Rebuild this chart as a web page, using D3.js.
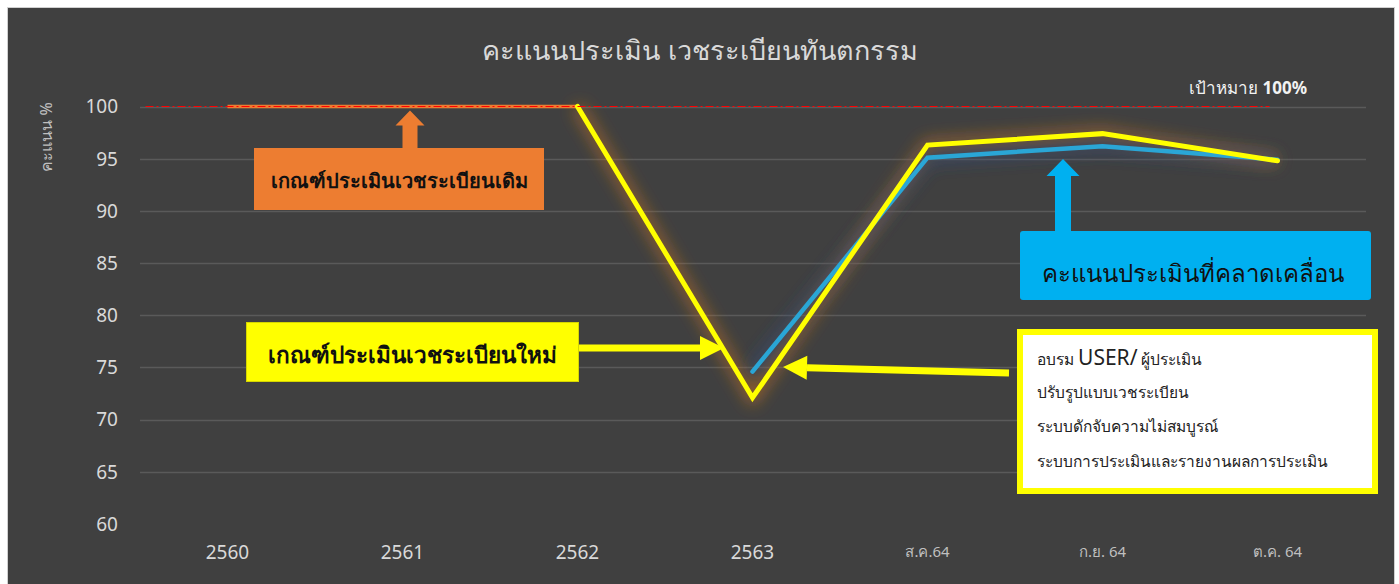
<!DOCTYPE html>
<html>
<head>
<meta charset="utf-8">
<script src="https://cdn.jsdelivr.net/npm/d3@7"></script>
<style>
  html, body { margin: 0; padding: 0; background: #ffffff; }
  svg { display: block; font-family: "Noto Sans", "Open Sans", sans-serif; }
</style>
</head>
<body>
<div id="chart"></div>
<script>
// categories on the x axis
const categories = ["2560", "2561", "2562", "2563", "ส.ค.64", "ก.ย. 64", "ต.ค. 64"];
// old assessment criteria (orange)
const oldCriteria = [100, 100, 100, null, null, null, null];
// new assessment criteria (yellow)
const newCriteria = [null, null, 100, 72.1, 96.3, 97.4, 94.8];
// deviated scores (blue)
const deviated = [null, null, null, 74.6, 95.1, 96.2, 94.9];
const yTicks = [60, 65, 70, 75, 80, 85, 90, 95, 100];
const target = 100;
const noteLines = ["ปรับรูปแบบเวชระเบียน", "ระบบดักจับความไม่สมบูรณ์", "ระบบการประเมินและรายงานผลการประเมิน"];

const w = 1399, h = 584;
const svg = d3.select("#chart").append("svg").attr("width", w).attr("height", h);

// glow filters
const defs = svg.append("defs");
function glow(id, color, sd, op) {
  const f = defs.append("filter").attr("id", id)
    .attr("x", "-20%").attr("y", "-30%").attr("width", "140%").attr("height", "160%");
  f.append("feGaussianBlur").attr("in", "SourceAlpha").attr("stdDeviation", sd).attr("result", "b");
  f.append("feFlood").attr("flood-color", color).attr("flood-opacity", op);
  f.append("feComposite").attr("in2", "b").attr("operator", "in");
}
glow("glowOrange", "#c8741f", 8, 0.7);
glow("glowBlue", "#2c4a80", 8, 0.6);

// chart background
svg.append("rect").attr("x", 0).attr("y", 0).attr("width", w).attr("height", h).attr("fill", "#ffffff");
svg.append("rect").attr("x", 7.5).attr("y", 7.5).attr("width", 1387).attr("height", 590)
  .attr("fill", "#404040").attr("stroke", "#d0d0d0");

const x = d3.scalePoint().domain(categories).range([140, 1365]).padding(0.5);
const y = d3.scaleLinear().domain([60, 100]).range([524, 106.5]);

// gridlines
svg.append("g").selectAll("line").data(yTicks.filter(d => d > 60)).enter().append("line")
  .attr("x1", 140).attr("x2", 1366)
  .attr("y1", d => Math.round(y(d)) + 0.5).attr("y2", d => Math.round(y(d)) + 0.5)
  .attr("stroke", "#5a5a5a").attr("stroke-width", 1.5);

// y tick labels
svg.append("g").selectAll("text").data(yTicks).enter().append("text")
  .attr("x", 118).attr("y", d => y(d)).attr("dy", "0.36em")
  .attr("text-anchor", "end").attr("fill", "#d9d9d9").attr("font-size", 19)
  .text(d => d);

// x tick labels
svg.append("g").selectAll("text").data(categories).enter().append("text")
  .attr("x", d => x(d)).attr("y", 552).attr("dy", "0.36em")
  .attr("text-anchor", "middle")
  .attr("fill", (d, i) => i < 4 ? "#d9d9d9" : "#bfbfbf")
  .attr("font-size", (d, i) => i < 4 ? 19 : 15)
  .text(d => d);

// y axis title
svg.append("text").attr("transform", `translate(52,137) rotate(-90)`)
  .attr("text-anchor", "middle").attr("fill", "#bfbfbf").attr("font-size", 16)
  .text("คะแนน %");

// title
svg.append("text").attr("x", 700).attr("y", 50).attr("dy", "0.36em")
  .attr("text-anchor", "middle").attr("fill", "#d9d9d9").attr("font-size", 27)
  .text("คะแนนประเมิน เวชระเบียนทันตกรรม");

const line = d3.line()
  .defined(d => d.v != null)
  .x(d => x(d.c)).y(d => y(d.v));
const toPts = arr => arr.map((v, i) => ({ c: categories[i], v: v }));

// glows
svg.append("path").attr("d", line(toPts(oldCriteria))).attr("fill", "none")
  .attr("stroke", "#000").attr("stroke-width", 10).attr("filter", "url(#glowOrange)");
svg.append("path").attr("d", line(toPts(newCriteria))).attr("fill", "none")
  .attr("stroke", "#000").attr("stroke-width", 10).attr("filter", "url(#glowOrange)");
svg.append("path").attr("d", line(toPts(deviated))).attr("fill", "none")
  .attr("stroke", "#000").attr("stroke-width", 12).attr("filter", "url(#glowBlue)");

// series lines
svg.append("path").attr("d", line(toPts(oldCriteria))).attr("fill", "none")
  .attr("stroke", "#ed7d31").attr("stroke-width", 3.5);
svg.append("path").attr("d", line(toPts(deviated))).attr("fill", "none")
  .attr("stroke", "#2aa6d6").attr("stroke-width", 4.5).attr("stroke-linecap", "round");
svg.append("path").attr("d", line(toPts(newCriteria))).attr("fill", "none")
  .attr("stroke", "#ffff00").attr("stroke-width", 5).attr("stroke-linecap", "round");

// target line (dash-dot)
svg.append("line")
  .attr("x1", x(categories[0]) - 82).attr("x2", x(categories[categories.length - 1]) - 8)
  .attr("y1", y(target)).attr("y2", y(target))
  .attr("stroke", "#ff0000").attr("stroke-width", 1)
  .attr("stroke-dasharray", "8,3,2,3");

// target label
const tgt = svg.append("text").attr("x", 1307).attr("y", 88).attr("dy", "0.36em")
  .attr("text-anchor", "end").attr("fill", "#f2f2f2").attr("font-size", 17);
tgt.append("tspan").text("เป้าหมาย ");
tgt.append("tspan").attr("font-weight", "bold").text("100%");

// block arrow helper (vertical up)
function upArrow(cx, tipY, baseY, shaftW, headW, headH, color) {
  const p = d3.path();
  p.moveTo(cx, tipY);
  p.lineTo(cx + headW / 2, tipY + headH);
  p.lineTo(cx + shaftW / 2, tipY + headH);
  p.lineTo(cx + shaftW / 2, baseY);
  p.lineTo(cx - shaftW / 2, baseY);
  p.lineTo(cx - shaftW / 2, tipY + headH);
  p.lineTo(cx - headW / 2, tipY + headH);
  p.closePath();
  svg.append("path").attr("d", p.toString()).attr("fill", color);
}
// straight arrow helper
function hArrow(x0, y0, x1, y1, thick, headL, headW, color) {
  const ang = Math.atan2(y1 - y0, x1 - x0);
  const g = svg.append("g");
  const bx = x1 - headL * Math.cos(ang), by = y1 - headL * Math.sin(ang);
  g.append("line").attr("x1", x0).attr("y1", y0).attr("x2", bx).attr("y2", by)
    .attr("stroke", color).attr("stroke-width", thick);
  const nx = -Math.sin(ang), ny = Math.cos(ang);
  g.append("path").attr("d", `M${x1},${y1}L${bx + nx * headW / 2},${by + ny * headW / 2}L${bx - nx * headW / 2},${by - ny * headW / 2}Z`)
    .attr("fill", color);
}

// orange annotation
upArrow(410, y(target) + 4, 150, 15, 29, 15, "#ed7d31");
svg.append("rect").attr("x", 254).attr("y", 148).attr("width", 290).attr("height", 62).attr("fill", "#ed7d31");
svg.append("text").attr("x", 399).attr("y", 181).attr("dy", "0.36em")
  .attr("text-anchor", "middle").attr("fill", "#111").attr("font-size", 20).attr("font-weight", "bold")
  .text("เกณฑ์ประเมินเวชระเบียนเดิม");

// yellow annotation
hArrow(578, 348, 724, 348, 7, 24, 24, "#ffff00");
svg.append("rect").attr("x", 246.5).attr("y", 322.5).attr("width", 332).attr("height", 59)
  .attr("fill", "#ffff00").attr("stroke", "#d6d600");
svg.append("text").attr("x", 412).attr("y", 355).attr("dy", "0.36em")
  .attr("text-anchor", "middle").attr("fill", "#111").attr("font-size", 22.5).attr("font-weight", "bold")
  .text("เกณฑ์ประเมินเวชระเบียนใหม่");

// blue annotation
upArrow(1063, 159, 232, 16, 33, 17, "#00b0f0");
svg.append("rect").attr("x", 1020).attr("y", 231).attr("width", 351).attr("height", 69).attr("rx", 3)
  .attr("fill", "#00b0f0");
svg.append("text").attr("x", 1193).attr("y", 273).attr("dy", "0.36em")
  .attr("text-anchor", "middle").attr("fill", "#111").attr("font-size", 24)
  .text("คะแนนประเมินที่คลาดเคลื่อน");

// notes annotation
hArrow(1009, 373, 783, 367, 7, 24, 24, "#ffff00");
svg.append("rect").attr("x", 1020).attr("y", 332).attr("width", 355).attr("height", 159)
  .attr("fill", "#ffffff").attr("stroke", "#ffff00").attr("stroke-width", 6);
const n1 = svg.append("text").attr("x", 1037).attr("y", 359).attr("dy", "0.36em")
  .attr("fill", "#222").attr("font-size", 15.5);
n1.append("tspan").text("อบรม ");
n1.append("tspan").attr("font-size", 21).text("USER/");
n1.append("tspan").text(" ผู้ประเมิน");
svg.append("g").selectAll("text").data(noteLines).enter().append("text")
  .attr("x", 1037).attr("y", (d, i) => 392 + i * 34.5).attr("dy", "0.36em")
  .attr("fill", "#222").attr("font-size", 15.5)
  .text(d => d);
</script>
</body>
</html>
